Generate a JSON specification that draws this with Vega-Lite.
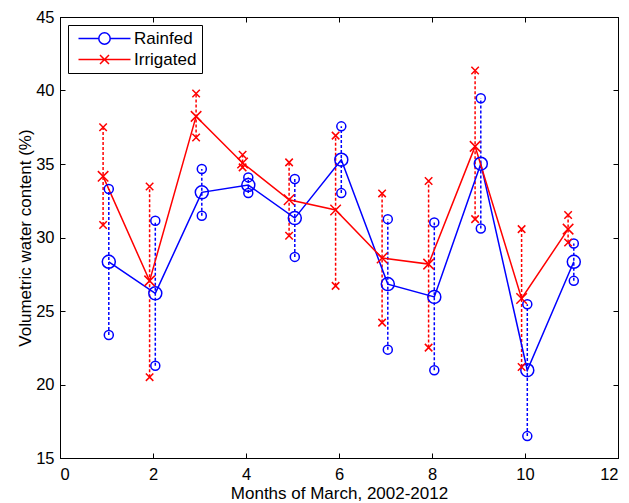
{
  "$schema": "https://vega.github.io/schema/vega-lite/v6.json",
  "width": 558,
  "height": 441,
  "autosize": {"type": "none"},
  "padding": {"left": 60, "top": 17, "right": 11, "bottom": 45},
  "background": "white",
  "config": {
    "font": "Liberation Sans",
    "view": {"stroke": "black", "strokeWidth": 1},
    "axis": {
      "grid": false,
      "domainColor": "black",
      "domainWidth": 1,
      "tickColor": "black",
      "tickWidth": 1,
      "labelColor": "black",
      "titleColor": "black",
      "labelFontSize": 16.5,
      "titleFontSize": 17,
      "titleFontWeight": "normal",
      "labelFont": "Liberation Sans",
      "titleFont": "Liberation Sans"
    }
  },
  "data": {
    "values": [
      {"month": 1, "series": "Rainfed", "mean": 28.35, "min": 23.37, "max": 33.3},
      {"month": 2, "series": "Rainfed", "mean": 26.2, "min": 21.28, "max": 31.14},
      {"month": 3, "series": "Rainfed", "mean": 33.07, "min": 31.48, "max": 34.66},
      {"month": 4, "series": "Rainfed", "mean": 33.57, "min": 33.02, "max": 34.09},
      {"month": 5, "series": "Rainfed", "mean": 31.32, "min": 28.68, "max": 33.98},
      {"month": 6, "series": "Rainfed", "mean": 35.29, "min": 33.02, "max": 37.56},
      {"month": 7, "series": "Rainfed", "mean": 26.83, "min": 22.37, "max": 31.25},
      {"month": 8, "series": "Rainfed", "mean": 25.96, "min": 20.97, "max": 31.02},
      {"month": 9, "series": "Rainfed", "mean": 35.02, "min": 30.61, "max": 39.47},
      {"month": 10, "series": "Rainfed", "mean": 20.97, "min": 16.49, "max": 25.46},
      {"month": 11, "series": "Rainfed", "mean": 28.35, "min": 27.05, "max": 29.59},
      {"month": 1, "series": "Irrigated", "mean": 34.16, "min": 30.85, "max": 37.5},
      {"month": 2, "series": "Irrigated", "mean": 27.05, "min": 20.5, "max": 33.47},
      {"month": 3, "series": "Irrigated", "mean": 38.24, "min": 36.8, "max": 39.8},
      {"month": 4, "series": "Irrigated", "mean": 35.07, "min": 34.77, "max": 35.63},
      {"month": 5, "series": "Irrigated", "mean": 32.57, "min": 30.12, "max": 35.11},
      {"month": 6, "series": "Irrigated", "mean": 31.87, "min": 26.71, "max": 36.93},
      {"month": 7, "series": "Irrigated", "mean": 28.6, "min": 24.21, "max": 33.0},
      {"month": 8, "series": "Irrigated", "mean": 28.19, "min": 22.51, "max": 33.84},
      {"month": 9, "series": "Irrigated", "mean": 36.2, "min": 31.25, "max": 41.36},
      {"month": 10, "series": "Irrigated", "mean": 25.85, "min": 21.19, "max": 30.57},
      {"month": 11, "series": "Irrigated", "mean": 30.57, "min": 29.66, "max": 31.53}
    ]
  },
  "resolve": {"axis": {"x": "independent", "y": "independent"}},
  "layer": [
    {
      "transform": [{"filter": "datum.series === 'Rainfed'"}],
      "mark": {"type": "rule", "strokeDash": [3, 2], "strokeWidth": 1.5, "color": "#0000ff", "xOffset": 2.3},
      "encoding": {
        "x": {"field": "month", "type": "quantitative", "scale": {"domain": [0, 12], "nice": false},
          "axis": {"orient": "bottom", "values": [0, 2, 4, 6, 8, 10, 12], "tickSize": -5, "labelPadding": 13, "title": "Months of March, 2002-2012", "titlePadding": 3}},
        "y": {"field": "min", "type": "quantitative", "scale": {"domain": [15, 45], "nice": false, "zero": false},
          "axis": {"orient": "left", "values": [15, 20, 25, 30, 35, 40, 45], "tickSize": -5, "labelPadding": 11, "title": "Volumetric water content (%)", "titlePadding": 1}},
        "y2": {"field": "max"}
      }
    },
    {
      "transform": [{"filter": "datum.series === 'Irrigated'"}],
      "mark": {"type": "rule", "strokeDash": [3, 2], "strokeWidth": 1.5, "color": "#ff0000", "xOffset": -3.4},
      "encoding": {
        "x": {"field": "month", "type": "quantitative",
          "axis": {"orient": "top", "values": [0, 2, 4, 6, 8, 10, 12], "tickSize": -5, "labels": false, "title": null}},
        "y": {"field": "min", "type": "quantitative",
          "axis": {"orient": "right", "values": [15, 20, 25, 30, 35, 40, 45], "tickSize": -5, "labels": false, "title": null}},
        "y2": {"field": "max"}
      }
    },
    {
      "transform": [{"filter": "datum.series === 'Rainfed'"}],
      "mark": {"type": "line", "strokeWidth": 1.5, "xOffset": 2.3},
      "encoding": {
        "x": {"field": "month", "type": "quantitative", "axis": null},
        "y": {"field": "mean", "type": "quantitative", "axis": null},
        "color": {"field": "series", "type": "nominal",
          "scale": {"domain": ["Rainfed", "Irrigated"], "range": ["#0000ff", "#ff0000"]},
          "legend": {
            "orient": "top-left", "offset": 8, "title": null,
            "strokeColor": "black", "fillColor": "white", "padding": 5,
            "labelFontSize": 17, "labelColor": "black", "labelFont": "Liberation Sans",
            "symbolSize": 100, "symbolStrokeWidth": 1.5, "rowPadding": 2,
            "symbolOffset": 23, "labelOffset": 21,
            "encode": {"symbols": {"update": {
              "shape": {"signal": "datum.value === 'Rainfed' ? 'M-5.2,0L-1.14,0M1.14,0L5.2,0M-1.14,0A1.14,1.14,0,1,1,1.14,0A1.14,1.14,0,1,1,-1.14,0' : 'M-5.2,0L5.2,0M-0.9,-0.9L0.9,0.9M-0.9,0.9L0.9,-0.9'"},
              "fill": {"value": "transparent"}
            }}}
          }}
      }
    },
    {
      "transform": [{"filter": "datum.series === 'Irrigated'"}],
      "mark": {"type": "line", "strokeWidth": 1.5, "xOffset": -3.4},
      "encoding": {
        "x": {"field": "month", "type": "quantitative", "axis": null},
        "y": {"field": "mean", "type": "quantitative", "axis": null},
        "color": {"field": "series", "type": "nominal"}
      }
    },
    {
      "transform": [{"filter": "datum.series === 'Rainfed'"}],
      "mark": {"type": "point", "shape": "circle", "filled": false, "size": 169, "strokeWidth": 1.5, "color": "#0000ff", "opacity": 1, "xOffset": 2.3},
      "encoding": {
        "x": {"field": "month", "type": "quantitative", "axis": null},
        "y": {"field": "mean", "type": "quantitative", "axis": null}
      }
    },
    {
      "transform": [{"filter": "datum.series === 'Rainfed'"}],
      "mark": {"type": "point", "shape": "circle", "filled": false, "size": 81, "strokeWidth": 1.5, "color": "#0000ff", "opacity": 1, "xOffset": 2.3},
      "encoding": {
        "x": {"field": "month", "type": "quantitative", "axis": null},
        "y": {"field": "min", "type": "quantitative", "axis": null}
      }
    },
    {
      "transform": [{"filter": "datum.series === 'Rainfed'"}],
      "mark": {"type": "point", "shape": "circle", "filled": false, "size": 81, "strokeWidth": 1.5, "color": "#0000ff", "opacity": 1, "xOffset": 2.3},
      "encoding": {
        "x": {"field": "month", "type": "quantitative", "axis": null},
        "y": {"field": "max", "type": "quantitative", "axis": null}
      }
    },
    {
      "transform": [{"filter": "datum.series === 'Irrigated'"}],
      "mark": {"type": "point", "shape": "M-1,-1L1,1M-1,1L1,-1", "filled": false, "size": 110, "strokeWidth": 1.5, "color": "#ff0000", "opacity": 1, "xOffset": -3.4},
      "encoding": {
        "x": {"field": "month", "type": "quantitative", "axis": null},
        "y": {"field": "mean", "type": "quantitative", "axis": null}
      }
    },
    {
      "transform": [{"filter": "datum.series === 'Irrigated'"}],
      "mark": {"type": "point", "shape": "M-1,-1L1,1M-1,1L1,-1", "filled": false, "size": 56, "strokeWidth": 1.5, "color": "#ff0000", "opacity": 1, "xOffset": -3.4},
      "encoding": {
        "x": {"field": "month", "type": "quantitative", "axis": null},
        "y": {"field": "min", "type": "quantitative", "axis": null}
      }
    },
    {
      "transform": [{"filter": "datum.series === 'Irrigated'"}],
      "mark": {"type": "point", "shape": "M-1,-1L1,1M-1,1L1,-1", "filled": false, "size": 56, "strokeWidth": 1.5, "color": "#ff0000", "opacity": 1, "xOffset": -3.4},
      "encoding": {
        "x": {"field": "month", "type": "quantitative", "axis": null},
        "y": {"field": "max", "type": "quantitative", "axis": null}
      }
    }
  ]
}
